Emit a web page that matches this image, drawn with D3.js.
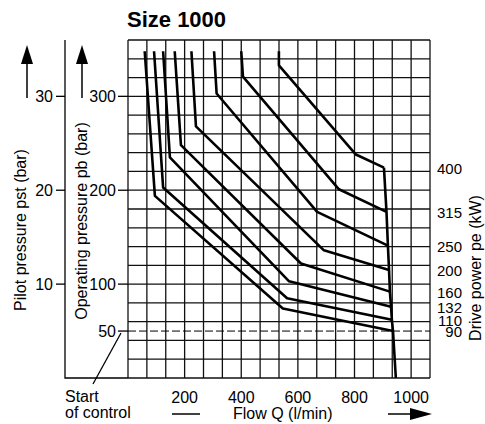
<!DOCTYPE html>
<html>
<head>
<meta charset="utf-8">
<style>
body { margin: 0; background: #fff; }
svg { display: block; font-family: 'Liberation Sans', Arial, sans-serif; }
.grid line { stroke: #111; stroke-width: 1.3; }
.curve { fill: none; stroke: #000; stroke-width: 2.6; stroke-linejoin: round; }
.axis-line { stroke: #000; stroke-width: 1.3; fill: none; }
.lbl { font-size: 16px; fill: #000; }
.kw { font-size: 15px; fill: #000; }
.title { font-size: 22px; font-weight: bold; }
</style>
</head>
<body>
<div id="chart"></div>
<script src="https://cdn.jsdelivr.net/npm/d3@7"></script>
<script>
// points are [flow Q (l/min), operating pressure pb (bar)]
let power = [400, 315, 250, 200, 160, 132, 110, 90]

let p400 = [[533, 348], [533, 333], [805, 238], [904, 224]]
let p315 = [[400, 348], [406, 321], [745, 201], [913, 177]]
let p250 = [[304, 348], [313, 303], [668, 177], [918, 141]]
let p200 = [[224, 348], [240, 268], [692, 136], [922, 115]]
let p160 = [[165, 348], [187, 248], [611, 122], [925, 92]]
let p132 = [[124, 348], [148, 235], [569, 103], [929, 76]]
let p110 = [[92, 348], [124, 203], [562, 85], [932, 62]]
let p90 = [[59, 348], [95, 194], [547, 74], [936, 50]]

let maxFlow = [[904, 224], [913, 177], [918, 141], [922, 115], [925, 92], [929, 76], [932, 62], [936, 50], [946, 0]]

let flowTicks = [200, 400, 600, 800, 1000]
let pbTicks = [100, 200, 300]
let pstTicks = [10, 20, 30]
let startOfControl = 50

let curves = [p400, p315, p250, p200, p160, p132, p110, p90]

let width = 485, height = 424

let svg = d3.select('#chart')
.append('svg')
.attr('width', width)
.attr('height', height)

let x = d3.scaleLinear().domain([0, 3200 / 3]).range([128, 430])
let y = d3.scaleLinear().domain([0, 360]).range([378, 40])
let yPst = d3.scaleLinear().domain([0, 36]).range([378, 40])

// grid: 200/3 l/min by 20 bar
let grid = svg.append('g').attr('class', 'grid')

grid.selectAll('.vline')
.data(d3.range(0, 17).map(i => i * 200 / 3))
.join('line')
.attr('class', 'vline')
.attr('x1', d => x(d)).attr('x2', d => x(d))
.attr('y1', y(0)).attr('y2', y(360))

grid.selectAll('.hline')
.data(d3.range(0, 361, 20))
.join('line')
.attr('class', 'hline')
.attr('x1', x(0)).attr('x2', x(3200 / 3))
.attr('y1', d => y(d)).attr('y2', d => y(d))

// start of control line
svg.append('line')
.attr('x1', x(0)).attr('x2', x(3200 / 3))
.attr('y1', y(startOfControl)).attr('y2', y(startOfControl))
.attr('stroke', '#000')
.attr('stroke-width', 1)
.attr('stroke-dasharray', '8,3')

// pilot pressure axis
svg.append('path')
.attr('class', 'axis-line')
.attr('d', `M65,${y(360)}V${y(0)}H${x(0)}`)

svg.selectAll('.pst-tick')
.data(pstTicks)
.join('line')
.attr('class', 'axis-line')
.attr('x1', 56).attr('x2', 65)
.attr('y1', d => yPst(d)).attr('y2', d => yPst(d))

svg.selectAll('.pst-label')
.data(pstTicks)
.join('text')
.attr('class', 'lbl')
.attr('x', 53)
.attr('y', d => yPst(d))
.attr('dy', '0.36em')
.attr('text-anchor', 'end')
.text(d => d)

// operating pressure ticks
svg.selectAll('.pb-tick')
.data(pbTicks.concat([startOfControl]))
.join('line')
.attr('class', 'axis-line')
.attr('x1', 118).attr('x2', x(0))
.attr('y1', d => y(d)).attr('y2', d => y(d))

svg.selectAll('.pb-label')
.data(pbTicks.concat([startOfControl]))
.join('text')
.attr('class', 'lbl')
.attr('x', 116)
.attr('y', d => y(d))
.attr('dy', '0.36em')
.attr('text-anchor', 'end')
.text(d => d)

// leader to "Start of control"
svg.append('line')
.attr('class', 'axis-line')
.attr('stroke-width', 1)
.attr('x1', 121).attr('y1', y(startOfControl) + 2)
.attr('x2', 93).attr('y2', 384)

// up arrows
function upArrow(cx) {
	svg.append('line')
	.attr('x1', cx).attr('x2', cx)
	.attr('y1', 62).attr('y2', 98)
	.attr('stroke', '#000')
	.attr('stroke-width', 1.5)
	svg.append('path')
	.attr('d', `M${cx},45L${cx - 6},64L${cx + 6},64Z`)
	.attr('fill', '#000')
}
upArrow(27)
upArrow(82)

// flow labels
svg.selectAll('.q-label')
.data(flowTicks)
.join('text')
.attr('class', 'lbl')
.attr('x', d => x(d))
.attr('y', 403)
.attr('text-anchor', 'middle')
.text(d => d)

// curves
let line = d3.line().x(d => x(d[0])).y(d => y(d[1]))

svg.selectAll('.curve')
.data(curves)
.join('path')
.attr('class', 'curve')
.attr('d', line)

svg.append('path')
.datum(maxFlow)
.attr('class', 'curve')
.attr('d', line)

svg.selectAll('.kw-label')
.data(power)
.join('text')
.attr('class', 'kw')
.attr('x', 462)
.attr('y', (d, i) => y(curves[i][curves[i].length - 1][1]) + 6)
.attr('text-anchor', 'end')
.text(d => d)

// titles
svg.append('text')
.attr('class', 'title')
.attr('x', 127)
.attr('y', 27)
.text('Size 1000')

svg.append('text')
.attr('class', 'lbl')
.attr('font-size', 17)
.attr('transform', 'translate(26,230) rotate(-90)')
.attr('text-anchor', 'middle')
.text('Pilot pressure pst (bar)')

svg.append('text')
.attr('class', 'lbl')
.attr('font-size', 17)
.attr('transform', 'translate(87,221) rotate(-90)')
.attr('text-anchor', 'middle')
.text('Operating pressure pb (bar)')

svg.append('text')
.attr('class', 'lbl')
.attr('transform', 'translate(481,268) rotate(-90)')
.attr('text-anchor', 'middle')
.text('Drive power pe (kW)')

svg.append('text').attr('class', 'lbl').attr('font-size', 15).attr('x', 65).attr('y', 402).text('Start')
svg.append('text').attr('class', 'lbl').attr('font-size', 15).attr('x', 65).attr('y', 418).text('of control')

svg.append('line')
.attr('x1', 172).attr('x2', 200)
.attr('y1', 414).attr('y2', 414)
.attr('stroke', '#000').attr('stroke-width', 1.5)

svg.append('text')
.attr('class', 'lbl')
.attr('font-size', 17)
.attr('x', 233)
.attr('y', 419)
.text('Flow Q (l/min)')

svg.append('line')
.attr('x1', 388).attr('x2', 414)
.attr('y1', 414).attr('y2', 414)
.attr('stroke', '#000').attr('stroke-width', 1.5)
svg.append('path')
.attr('d', 'M432,414L410,408L410,420Z')
.attr('fill', '#000')
</script>
</body>
</html>
